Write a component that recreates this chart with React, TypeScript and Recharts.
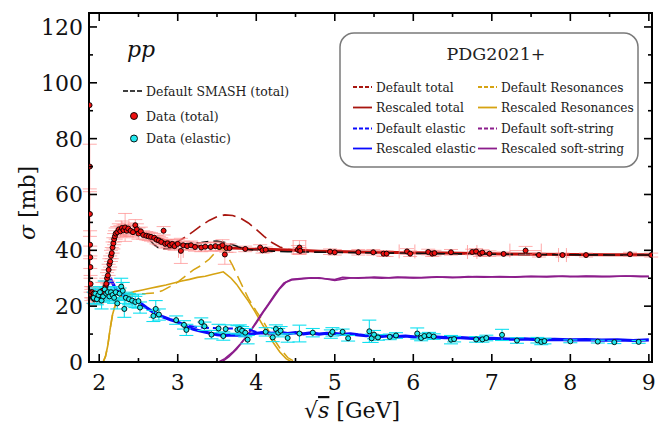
import React from "react";
import {
    ComposedChart,
    Line,
    Scatter,
    ErrorBar,
    XAxis,
    YAxis,
    ReferenceArea,
} from "recharts";

// sqrt(s) in GeV, sigma in mb
const xTicks = [2, 2.5, 3, 3.5, 4, 4.5, 5, 5.5, 6, 6.5, 7, 7.5, 8, 8.5, 9];
const yTicks = [0, 10, 20, 30, 40, 50, 60, 70, 80, 90, 100, 110, 120];

const rescaledTotal = [
    [1.9, 26], [1.93, 24], [1.96, 23], [2.0, 23.5], [2.03, 24], [2.06, 25], [2.08, 27], [2.1, 30],
    [2.12, 33], [2.14, 36.5], [2.16, 40], [2.18, 43], [2.2, 45], [2.23, 46.8], [2.27, 47.5],
    [2.32, 47.6], [2.4, 47.2], [2.5, 46.8], [2.6, 45.8], [2.7, 44.8], [2.8, 43.8], [2.9, 43],
    [3.0, 42.4], [3.1, 42], [3.2, 41.7], [3.3, 41.4], [3.4, 41.3], [3.5, 41.1], [3.6, 41],
    [3.7, 40.8], [3.8, 40.7], [3.9, 40.5], [4.0, 40.4], [4.2, 40.3], [4.4, 40.1], [4.6, 39.9],
    [4.8, 39.7], [5.0, 39.6], [5.3, 39.4], [5.6, 39.3], [6.0, 39.1], [6.4, 39.0], [6.8, 38.9],
    [7.2, 38.7], [7.6, 38.6], [8.0, 38.5], [8.5, 38.4], [9.0, 38.4],
];
const defaultTotal = [
    [2.5, 46.8], [2.6, 45.3], [2.7, 43.6], [2.8, 42.4], [2.9, 42.4], [3.0, 43.2], [3.1, 44.8],
    [3.2, 46.8], [3.3, 48.9], [3.4, 50.7], [3.5, 52], [3.6, 52.7], [3.7, 52.5], [3.8, 51.5],
    [3.9, 49.8], [4.0, 47.5], [4.1, 45], [4.2, 42.8], [4.3, 41.2], [4.4, 40.3], [4.5, 40.1],
];
const defaultSmash = [
    [2.0, 23.5], [2.05, 24.5], [2.1, 30], [2.15, 38], [2.2, 44.5], [2.25, 46.5], [2.3, 47],
    [2.4, 46.8], [2.5, 46.2], [2.6, 45], [2.65, 43.5], [2.7, 42], [2.75, 41], [2.8, 40.5],
    [2.9, 40.6], [3.0, 41.5], [3.1, 42.3], [3.2, 42.6], [3.3, 42.8], [3.4, 43.2], [3.5, 43.3],
    [3.6, 42.8], [3.7, 42], [3.8, 41], [3.9, 40.3], [4.0, 40], [4.2, 39.7], [4.4, 39.5],
    [4.6, 39.4], [5.0, 39.3], [6.0, 38.9], [7.0, 38.6], [8.0, 38.4], [9.0, 38.3],
];
const rescaledElastic = [
    [1.95, 23], [2.0, 24], [2.05, 25.3], [2.1, 27.5], [2.15, 29.4], [2.19, 27.2], [2.23, 25.5],
    [2.28, 24.4], [2.34, 23.2], [2.4, 22.6], [2.5, 21.6], [2.6, 19.5], [2.7, 17.6], [2.8, 16.3],
    [2.9, 15.2], [3.0, 14.3], [3.1, 12.8], [3.2, 11.7], [3.3, 11.0], [3.4, 10.4], [3.5, 9.8],
    [3.6, 9.5], [3.7, 9.7], [3.8, 9.6], [3.9, 9.8], [4.0, 10.3], [4.1, 10.5], [4.2, 10.3],
    [4.3, 10.6], [4.4, 10.2], [4.5, 10.5], [4.6, 10.1], [4.7, 10.4], [4.8, 10.0], [4.9, 10.3],
    [5.0, 10.2], [5.1, 9.9], [5.2, 10.1], [5.3, 9.7], [5.4, 9.4], [5.5, 9.6], [5.6, 9.2],
    [5.7, 9.4], [5.8, 9.1], [5.9, 9.3], [6.0, 9.0], [6.2, 9.1], [6.4, 8.7], [6.6, 8.7],
    [6.8, 8.4], [7.0, 8.5], [7.2, 8.2], [7.4, 8.3], [7.6, 8.0], [7.8, 8.1], [8.0, 7.9],
    [8.2, 8.0], [8.4, 7.8], [8.6, 7.9], [8.8, 7.7], [9.0, 7.9],
];
const defaultElastic = [
    [3.0, 14.3], [3.1, 13.1], [3.2, 12.7], [3.3, 12.4], [3.4, 12.2], [3.5, 12.1], [3.6, 12.0],
    [3.7, 12.0], [3.8, 11.9], [3.9, 11.6], [4.0, 10.8], [4.1, 10.5],
];
const rescaledRes = [
    [2.05, 0], [2.08, 2], [2.11, 6], [2.14, 12], [2.17, 17], [2.2, 20], [2.24, 22.5], [2.3, 23.8],
    [2.38, 24.6], [2.45, 25.2], [2.55, 25.8], [2.65, 26.4], [2.75, 27], [2.85, 27.6], [2.95, 28.3],
    [3.05, 29], [3.15, 29.6], [3.25, 30.3], [3.35, 30.7], [3.45, 31.4], [3.52, 31.9], [3.58, 32.3],
    [3.62, 31.4], [3.68, 30], [3.75, 27.8], [3.82, 25], [3.9, 21.8], [3.98, 18.2], [4.06, 14.3],
    [4.14, 10.5], [4.22, 6.8], [4.3, 3.6], [4.38, 1.2], [4.45, 0],
];
const defaultRes = [
    [2.05, 0], [2.08, 2], [2.11, 6], [2.14, 12], [2.17, 17], [2.2, 20], [2.24, 22.5], [2.3, 23.6],
    [2.4, 24.2], [2.5, 24.4], [2.6, 24.5], [2.7, 24.7], [2.8, 25.5], [2.9, 27], [3.0, 28.6],
    [3.1, 30.8], [3.2, 33], [3.3, 34.6], [3.4, 36.8], [3.47, 39], [3.52, 40.4], [3.56, 40.6],
    [3.62, 38.6], [3.7, 34.5], [3.8, 28.5], [3.9, 22.8], [4.0, 18.2], [4.1, 14], [4.2, 9.2],
    [4.3, 5], [4.4, 1.6], [4.5, 0],
];
const rescaledString = [
    [3.52, 0], [3.6, 1.2], [3.7, 3.5], [3.8, 6.5], [3.9, 10], [4.0, 14], [4.1, 18.3], [4.2, 22.3],
    [4.3, 26.3], [4.38, 28.6], [4.45, 29.4], [4.55, 29.7], [4.7, 30.1], [4.85, 29.9], [5.0, 29.5],
    [5.1, 30.3], [5.3, 30.0], [5.5, 30.4], [5.7, 30.1], [5.9, 30.3], [6.1, 30.2], [6.3, 30.5],
    [6.5, 30.2], [6.7, 30.6], [6.9, 30.4], [7.1, 30.6], [7.3, 30.4], [7.5, 30.7], [7.7, 30.5],
    [7.9, 30.8], [8.1, 30.6], [8.3, 30.7], [8.5, 30.6], [8.7, 30.8], [8.9, 30.6], [9.0, 30.7],
];
const defaultString = [
    [3.56, 0], [3.65, 1.8], [3.75, 4.6], [3.85, 8.2], [3.95, 12.2], [4.05, 16.6], [4.15, 20.6],
    [4.25, 24.8], [4.35, 28.3], [4.45, 29.6], [4.6, 30.0], [4.8, 30.2], [5.0, 29.2], [5.2, 30.1],
    [5.4, 30.3], [5.6, 30.0], [5.8, 30.4], [6.0, 30.1], [6.2, 30.3], [6.4, 30.4], [6.6, 30.3],
    [6.8, 30.6], [7.0, 30.5], [7.2, 30.4], [7.4, 30.6], [7.6, 30.6], [7.8, 30.7], [8.0, 30.5],
    [8.2, 30.8], [8.4, 30.6], [8.6, 30.7], [8.8, 30.8], [9.0, 30.6],
];

// [x, y, yErr]
const totalData = [
    [1.877, 92, 0], [1.88, 70, 8], [1.882, 53, 8], [1.884, 42, 5], [1.886, 37.5, 4], [1.888, 34, 4],
    [1.89, 28, 3], [1.895, 25, 2], [1.9, 24, 2], [1.91, 25, 2], [1.92, 23, 2], [1.93, 24.5, 2],
    [1.94, 22.5, 2], [1.95, 23.5, 2], [1.96, 24, 2], [1.97, 23, 2], [1.98, 24, 2], [1.99, 23.5, 2],
    [2.0, 24.5, 2], [2.02, 24, 2], [2.04, 25.5, 3], [2.06, 25, 2], [2.08, 27, 2], [2.09, 28, 2],
    [2.1, 30, 2], [2.11, 31, 2], [2.12, 33, 2], [2.13, 35, 2], [2.14, 36, 2], [2.15, 38, 2],
    [2.16, 39, 2], [2.17, 41, 2], [2.18, 42.5, 2], [2.19, 44, 2], [2.2, 45, 2], [2.21, 46, 2],
    [2.23, 46.5, 2], [2.25, 47.5, 2], [2.27, 46.8, 2], [2.29, 48, 2.5], [2.31, 47.2, 2],
    [2.33, 48.2, 5], [2.35, 47, 2], [2.37, 47.8, 2], [2.4, 47, 2], [2.43, 46.5, 2], [2.46, 49, 2],
    [2.48, 47.5, 2], [2.5, 46, 2], [2.53, 46.8, 1.5], [2.56, 45.5, 1.5], [2.6, 45.2, 1.5],
    [2.63, 45, 1.5], [2.66, 44.8, 1.5], [2.7, 44.5, 1.5], [2.73, 43.8, 1.5], [2.76, 43.5, 1.5],
    [2.79, 43, 1.5], [2.82, 47, 1.5], [2.84, 42.3, 1.5], [2.87, 42.5, 1.5], [2.9, 41.8, 1.5],
    [2.93, 42.3, 1.5], [2.96, 41.5, 1.5], [3.0, 42.3, 1.5], [3.04, 39.8, 4.5], [3.07, 41.8, 1.5],
    [3.12, 41.5, 1.5], [3.17, 41.8, 1.5], [3.22, 41.2, 1.5], [3.3, 41, 1.5], [3.35, 41.3, 1.5],
    [3.42, 41.2, 1.5], [3.48, 41.5, 1.5], [3.53, 41.2, 1.5], [3.57, 41.8, 2], [3.6, 38.5, 3.5],
    [3.62, 40.8, 1.5], [3.66, 40.8, 1.5], [3.86, 40.5, 1], [4.05, 41, 1], [4.08, 40, 1],
    [4.12, 40.2, 1], [4.53, 40.2, 1.5], [4.55, 41, 2.5], [4.56, 39.8, 1], [4.94, 39.5, 1],
    [5.0, 39.3, 1], [5.3, 39.3, 1], [5.49, 39.3, 1], [5.62, 38.8, 1], [5.66, 38.8, 1],
    [5.92, 39.6, 1], [5.96, 38.8, 1], [6.19, 39.4, 1], [6.24, 38.8, 1], [6.27, 39, 1],
    [6.48, 39.3, 1], [6.75, 39.4, 1], [6.8, 39.6, 1], [6.85, 38.8, 1], [6.88, 39.2, 1],
    [6.97, 38.8, 1], [7.15, 38.7, 0.7], [7.43, 39.9, 1.5], [7.6, 38.3, 0.7], [7.9, 38.3, 0.7],
    [8.2, 38.3, 0.7], [8.76, 38.6, 0.7], [9.03, 38.3, 0.7],
];
// [x, y, xErr]
const totalXErr = [
    [3.04, 39.8, 0.03], [4.55, 41, 0.08], [5.92, 39.6, 0.1], [6.75, 39.4, 0.06],
    [7.43, 39.9, 0.2], [7.9, 38.3, 0.05], [2.33, 48.2, 0.05],
];
const elasticData = [
    [1.93, 23, 2], [1.95, 24.5, 2], [1.97, 22.5, 2], [1.99, 24, 2], [2.01, 25, 2], [2.03, 22, 3],
    [2.05, 23.5, 2], [2.07, 26, 3], [2.09, 24.5, 2], [2.11, 25, 2], [2.13, 23.5, 2], [2.15, 25, 2],
    [2.17, 24, 2], [2.19, 23, 2], [2.21, 25, 2], [2.23, 21, 2], [2.26, 24.5, 2], [2.28, 27, 3],
    [2.3, 25.5, 3], [2.32, 19, 3], [2.34, 23, 2], [2.38, 22.5, 2], [2.42, 22, 2], [2.46, 21.5, 2],
    [2.5, 21.8, 2.5], [2.52, 19.5, 2], [2.69, 16.5, 2], [2.72, 19, 3], [2.76, 17, 2], [2.98, 15, 1.5],
    [3.08, 13.3, 1.5], [3.11, 11.5, 2], [3.3, 14.3, 1.5], [3.34, 12.8, 1.5], [3.43, 9.8, 1.5],
    [3.52, 12, 1.5], [3.58, 9.3, 1.5], [3.61, 11.8, 1.5], [3.76, 11.5, 1.5], [3.79, 11.8, 1.5],
    [3.82, 11.2, 1.5], [3.86, 10.5, 1.5], [3.89, 8, 1.5], [4.12, 10.8, 1.5], [4.21, 8.8, 1.5],
    [4.25, 11.8, 1.5], [4.28, 10.5, 1.5], [4.31, 11.2, 1.5], [4.4, 8.6, 1.5], [4.55, 10.2, 3],
    [4.72, 10.5, 1.5], [4.95, 10, 1.5], [4.97, 10.8, 1.5], [5.1, 10.8, 1], [5.17, 8.5, 1],
    [5.44, 11, 4], [5.47, 8.5, 1.5], [5.5, 9.8, 1.5], [5.55, 8.8, 1], [5.7, 9, 1], [5.78, 9.5, 1],
    [6.05, 10.2, 2], [6.1, 8.6, 1], [6.14, 9.3, 1], [6.2, 9.6, 1], [6.26, 9.1, 1], [6.48, 8.0, 1.5],
    [6.52, 8.2, 1], [6.8, 8.1, 1], [6.88, 8.1, 1], [6.93, 8.6, 1], [7.13, 9.7, 2], [7.32, 7.7, 1],
    [7.58, 7.8, 1], [7.63, 7.2, 1], [7.67, 7.5, 1], [8.0, 7.4, 0.5], [8.35, 7.3, 0.5],
    [8.56, 7.1, 0.5], [8.87, 7.2, 0.5],
];

const X_MIN = 1.87;
const X_MAX = 9.04;
const Y_MAX = 125;

const W = 664;
const H = 428;
const M_TOP = 13;
const M_RIGHT = 12;
const X_AXIS_H = 66;
const Y_AXIS_W = 89;
const PLOT_W = W - Y_AXIS_W - M_RIGHT;
const PLOT_H = H - M_TOP - X_AXIS_H;

const FONT = '"DejaVu Serif", "Liberation Serif", serif';
const serif = { fontFamily: FONT };

const RED = "#c4120e";
const DARKRED = "#a8160f";
const BLUE = "#0a0aff";
const GOLD = "#d6a312";
const PURPLE = "#8c1d8c";

const toPts = (a: number[][]) => a.map(([x, y]) => ({ x, y }));
const toErrY = (a: number[][]) => a.map(([x, y, e]) => ({ x, y, ey: e }));
const toErrX = (a: number[][]) => a.map(([x, y, e]) => ({ x, y, ex: e }));

function XTick(props: any) {
    const { x, y, payload } = props;
    const major = Number.isInteger(payload.value);
    const len = major ? 8 : 4;
    return (
        <g>
            <line x1={x} x2={x} y1={y} y2={y - len} stroke="#000" strokeWidth={1.6} />
            <line x1={x} x2={x} y1={y - PLOT_H} y2={y - PLOT_H + len} stroke="#000" strokeWidth={1.6} />
            {major && (
                <text x={x} y={y + 28} textAnchor="middle" fontSize={22} style={serif} fill="#111">
                    {payload.value}
                </text>
            )}
        </g>
    );
}

function YTick(props: any) {
    const { x, y, payload } = props;
    const major = payload.value % 20 === 0;
    const len = major ? 8 : 4;
    return (
        <g>
            <line x1={x} x2={x + len} y1={y} y2={y} stroke="#000" strokeWidth={1.6} />
            <line x1={x + PLOT_W} x2={x + PLOT_W - len} y1={y} y2={y} stroke="#000" strokeWidth={1.6} />
            {major && (
                <text x={x - 6} y={y + 8} textAnchor="end" fontSize={22} style={serif} fill="#111">
                    {payload.value}
                </text>
            )}
        </g>
    );
}

const dot = (fill: string) => (p: any) => (
    <circle cx={p.cx} cy={p.cy} r={2.5} fill={fill} stroke="#000" strokeWidth={0.9} />
);

const legendRows = [
    { label: "Default total", color: DARKRED, dash: "4 2" },
    { label: "Rescaled total", color: DARKRED, dash: "" },
    { label: "Default elastic", color: BLUE, dash: "4 2" },
    { label: "Rescaled elastic", color: BLUE, dash: "" },
];
const legendRows2 = [
    { label: "Default Resonances", color: GOLD, dash: "4 2" },
    { label: "Rescaled Resonances", color: GOLD, dash: "" },
    { label: "Default soft-string", color: PURPLE, dash: "4 2" },
    { label: "Rescaled soft-string", color: PURPLE, dash: "" },
];

function Overlay() {
    const rowY = [87, 107.5, 128.5, 148.5];
    return (
        <svg width={W} height={H} style={{ position: "absolute", left: 0, top: 0, pointerEvents: "none", fontFamily: FONT }}>
            <text x={127} y={57} fontSize={22} fontStyle="italic" fill="#111">pp</text>
            <line x1={123} x2={143} y1={91} y2={91} stroke="#000" strokeWidth={1.6} strokeDasharray="5 2" />
            <text x={146} y={95.5} fontSize={12.5} fill="#222">Default SMASH (total)</text>
            <circle cx={134} cy={116} r={3.5} fill="#ee1111" stroke="#000" strokeWidth={0.9} />
            <text x={146} y={120.5} fontSize={12.5} fill="#222">Data (total)</text>
            <circle cx={134} cy={138.5} r={3.5} fill="#22e8ee" stroke="#000" strokeWidth={0.9} />
            <text x={146} y={143} fontSize={12.5} fill="#222">Data (elastic)</text>

            <rect x={340} y={33} width={298} height={134} rx={14} fill="#fff" stroke="#7a7a7a" strokeWidth={1.5} />
            <text x={496} y={60} fontSize={17.5} textAnchor="middle" fill="#222">PDG2021+</text>
            {legendRows.map((r, i) => (
                <g key={r.label}>
                    <line x1={353} x2={372} y1={rowY[i]} y2={rowY[i]} stroke={r.color} strokeWidth={1.8} strokeDasharray={r.dash || undefined} />
                    <text x={376} y={rowY[i] + 4.5} fontSize={12.2} fill="#222">{r.label}</text>
                </g>
            ))}
            {legendRows2.map((r, i) => (
                <g key={r.label}>
                    <line x1={478} x2={497} y1={rowY[i]} y2={rowY[i]} stroke={r.color} strokeWidth={1.8} strokeDasharray={r.dash || undefined} />
                    <text x={501} y={rowY[i] + 4.5} fontSize={12.2} fill="#222">{r.label}</text>
                </g>
            ))}

            <text x={352} y={418} fontSize={22} textAnchor="middle" fill="#111">
                √<tspan fontStyle="italic" textDecoration="overline">s</tspan> [GeV]
            </text>
            <text x={35} y={203} fontSize={22} textAnchor="middle" fill="#111" transform="rotate(-90 35 203)">
                <tspan fontStyle="italic">σ</tspan> [mb]
            </text>
        </svg>
    );
}

export default function App() {
    return (
        <div style={{ position: "absolute", left: 0, top: 0, width: W, height: H, background: "#fff" }}>
            <ComposedChart width={W} height={H} margin={{ top: M_TOP, right: M_RIGHT, left: 0, bottom: 0 }}>
                <XAxis
                    type="number"
                    dataKey="x"
                    domain={[X_MIN, X_MAX]}
                    ticks={xTicks}
                    interval={0}
                    allowDataOverflow
                    height={X_AXIS_H}
                    tickSize={0}
                    tickMargin={0}
                    axisLine={{ stroke: "#000", strokeWidth: 2 }}
                    tick={<XTick />}
                />
                <YAxis
                    type="number"
                    dataKey="y"
                    domain={[0, Y_MAX]}
                    ticks={yTicks}
                    interval={0}
                    allowDataOverflow
                    width={Y_AXIS_W}
                    tickSize={0}
                    tickMargin={0}
                    axisLine={{ stroke: "#000", strokeWidth: 2 }}
                    tick={<YTick />}
                />
                <Line data={toPts(defaultTotal)} dataKey="y" stroke={DARKRED} strokeWidth={1.6} strokeDasharray="13 6" dot={false} isAnimationActive={false} />
                <Line data={toPts(rescaledTotal)} dataKey="y" stroke={RED} strokeWidth={3} dot={false} isAnimationActive={false} />
                <Line data={toPts(defaultSmash)} dataKey="y" stroke="#111" strokeWidth={1.6} strokeDasharray="12 5" dot={false} isAnimationActive={false} />
                <Line data={toPts(defaultRes)} dataKey="y" stroke={GOLD} strokeWidth={1.5} strokeDasharray="12 6" dot={false} isAnimationActive={false} />
                <Line data={toPts(rescaledRes)} dataKey="y" stroke={GOLD} strokeWidth={1.6} dot={false} isAnimationActive={false} />
                <Line data={toPts(defaultString)} dataKey="y" stroke={PURPLE} strokeWidth={1.5} dot={false} isAnimationActive={false} />
                <Line data={toPts(rescaledString)} dataKey="y" stroke={PURPLE} strokeWidth={1.7} dot={false} isAnimationActive={false} />
                <Line data={toPts(defaultElastic)} dataKey="y" stroke={BLUE} strokeWidth={2} strokeDasharray="8 4" dot={false} isAnimationActive={false} />
                <Line data={toPts(rescaledElastic)} dataKey="y" stroke={BLUE} strokeWidth={3.2} dot={false} isAnimationActive={false} />
                <Scatter data={toErrX(totalXErr)} dataKey="y" shape={() => <g />} isAnimationActive={false}>
                    <ErrorBar dataKey="ex" direction="x" width={7} stroke="#ff8a8a" strokeOpacity={0.75} strokeWidth={1} />
                </Scatter>
                <Scatter data={toErrY(totalData)} dataKey="y" shape={dot("#ee1111")} isAnimationActive={false}>
                    <ErrorBar dataKey="ey" direction="y" width={7} stroke="#ff8a8a" strokeOpacity={0.7} strokeWidth={1} />
                </Scatter>
                <Scatter data={toErrY(elasticData)} dataKey="y" shape={dot("#22e8ee")} isAnimationActive={false}>
                    <ErrorBar dataKey="ey" direction="y" width={7} stroke="#10e0f0" strokeWidth={1.1} />
                </Scatter>
                <ReferenceArea x1={X_MIN} x2={X_MAX} y1={0} y2={Y_MAX} fill="none" stroke="#000" strokeWidth={2} />
            </ComposedChart>
            <Overlay />
        </div>
    );
}
